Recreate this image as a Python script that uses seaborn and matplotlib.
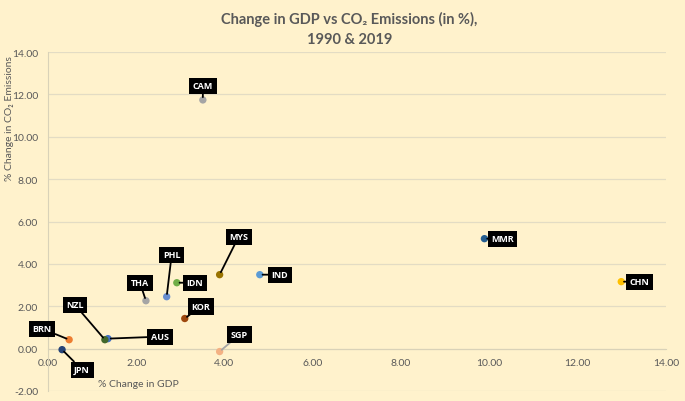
import pandas as pd
import seaborn as sns
import matplotlib.pyplot as plt
from matplotlib.ticker import FormatStrFormatter

# values
countries = ['CAM', 'MMR', 'CHN', 'MYS', 'IND', 'PHL', 'IDN', 'THA', 'KOR', 'SGP', 'AUS', 'NZL', 'BRN', 'JPN']
gdp_change = [3.51, 9.89, 12.99, 3.89, 4.80, 2.69, 2.92, 2.22, 3.10, 3.89, 1.36, 1.29, 0.48, 0.32]
co2_change = [11.74, 5.19, 3.16, 3.49, 3.49, 2.45, 3.11, 2.26, 1.42, -0.14, 0.47, 0.42, 0.42, -0.05]

colors = {'CAM': '#A5A5A5', 'MMR': '#255E91', 'CHN': '#FFC000', 'MYS': '#997300',
          'IND': '#5B9BD5', 'PHL': '#698ED0', 'IDN': '#70AD47', 'THA': '#A5A5A5',
          'KOR': '#9E480E', 'SGP': '#F4B183', 'AUS': '#4472C4', 'NZL': '#43682B',
          'BRN': '#ED7D31', 'JPN': '#264478'}
# label offsets in pixels from each point
offsets = {'CAM': (0, 14), 'MMR': (18, 0), 'CHN': (18, 0), 'MYS': (19, 38),
           'IND': (20, 0), 'PHL': (5, 42), 'IDN': (18, 0), 'THA': (-6, 18),
           'KOR': (16, 12), 'SGP': (20, 17), 'AUS': (52, 2), 'NZL': (-30, 35),
           'BRN': (-27, 11), 'JPN': (20, -20)}

df = pd.DataFrame({'country': countries, 'gdp': gdp_change, 'co2': co2_change})

sns.set_style('white')
plt.rcParams['font.family'] = ['Lato', 'DejaVu Sans']
bg = '#FFF2CC'
grey = '#595959'

fig = plt.figure(figsize=(6.85, 4.02), dpi=100, facecolor=bg)
ax = fig.add_axes([0.070, 0.025, 0.902, 0.843])
ax.set_facecolor(bg)

sns.scatterplot(data=df, x='gdp', y='co2', hue='country', palette=colors,
                legend=False, s=28, edgecolor='none', ax=ax, zorder=3)

for c, x, y in zip(countries, gdp_change, co2_change):
    dx, dy = offsets[c]
    lc = '#A5A5A5' if c == 'SGP' else 'black'
    ax.annotate(c, (x, y), xytext=(dx, dy), textcoords='offset pixels',
                ha='center', va='center', color='white', fontsize=6.5, fontweight='bold',
                family='Open Sans',
                bbox=dict(boxstyle='square,pad=0.4', fc='black', ec='none'),
                arrowprops=dict(arrowstyle='-', color=lc, lw=1.3, shrinkA=0, shrinkB=2),
                zorder=4)

ax.set_xlim(0, 14)
ax.set_ylim(-2, 14)
ax.set_xticks(range(0, 15, 2))
ax.set_yticks(range(-2, 15, 2))
ax.xaxis.set_major_formatter(FormatStrFormatter('%.2f'))
ax.yaxis.set_major_formatter(FormatStrFormatter('%.2f'))
ax.tick_params(labelsize=7.5, colors=grey, length=0, pad=7)
ax.grid(axis='y', color='#E3DCC4', lw=0.9)
ax.set_axisbelow(True)
for s in ['top', 'right']:
    ax.spines[s].set_visible(False)
ax.spines['bottom'].set_position(('data', 0))
ax.spines['bottom'].set_color('#D9D2B8')
ax.spines['left'].set_color('#D9D2B8')
ax.set_xlabel('')
ax.set_ylabel('')

ax.text(0.081, 0.008, '% Change in GDP', transform=ax.transAxes, fontsize=7.5, color=grey,
        ha='left', va='bottom')
fig.text(0.008, 1 - 56 / 402, '% Change in CO₂ Emissions', rotation=90, fontsize=7.5,
         color=grey, ha='left', va='top')
fig.text(0.51, 0.97, 'Change in GDP vs CO₂ Emissions (in %),\n1990 & 2019', ha='center',
         va='top', fontsize=10.5, fontweight='bold', color=grey, linespacing=1.5)

plt.savefig('out.png', facecolor=bg)
